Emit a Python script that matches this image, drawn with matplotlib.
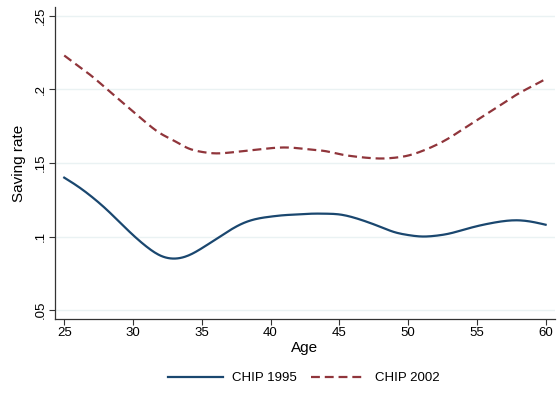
import numpy as np
import matplotlib
matplotlib.use("Agg")
import matplotlib.pyplot as plt

plt.rcParams['font.family'] = ['Liberation Sans', 'DejaVu Sans']

# smoothed saving rate by age
age = np.arange(25, 61)
chip1995 = [0.140, 0.134, 0.127, 0.119, 0.110, 0.101, 0.093, 0.087, 0.085, 0.087,
            0.092, 0.098, 0.104, 0.109, 0.112, 0.1135, 0.1145, 0.115, 0.1155, 0.1155,
            0.115, 0.113, 0.110, 0.1065, 0.103, 0.101, 0.100, 0.1005, 0.102, 0.1045,
            0.107, 0.109, 0.1105, 0.111, 0.110, 0.108]
chip2002 = [0.223, 0.216, 0.209, 0.201, 0.193, 0.185, 0.177, 0.170, 0.165, 0.160,
            0.1575, 0.1565, 0.157, 0.158, 0.159, 0.160, 0.1605, 0.160, 0.159, 0.158,
            0.156, 0.1545, 0.1535, 0.153, 0.1535, 0.155, 0.158, 0.162, 0.167, 0.173,
            0.179, 0.185, 0.191, 0.197, 0.202, 0.207]
xticks = [25, 30, 35, 40, 45, 50, 55, 60]
yticks = [0.05, 0.10, 0.15, 0.20, 0.25]
ylabels = ['.05', '.1', '.15', '.2', '.25']

# cubic interpolation for a smooth curve
def smooth(x, y, n=400):
    x = np.asarray(x, float)
    y = np.asarray(y, float)
    xs = np.linspace(x[0], x[-1], n)
    h = np.diff(x)
    m = len(x)
    A = np.zeros((m, m))
    r = np.zeros(m)
    A[0, 0] = A[-1, -1] = 1
    for i in range(1, m - 1):
        A[i, i - 1] = h[i - 1]
        A[i, i] = 2 * (h[i - 1] + h[i])
        A[i, i + 1] = h[i]
        r[i] = 3 * ((y[i + 1] - y[i]) / h[i] - (y[i] - y[i - 1]) / h[i - 1])
    c = np.linalg.solve(A, r)
    b = (y[1:] - y[:-1]) / h - h * (2 * c[:-1] + c[1:]) / 3
    d = (c[1:] - c[:-1]) / (3 * h)
    idx = np.clip(np.searchsorted(x, xs) - 1, 0, m - 2)
    t = xs - x[idx]
    ys = y[idx] + b[idx] * t + c[idx] * t ** 2 + d[idx] * t ** 3
    return xs, ys

fig = plt.figure(figsize=(5.6, 4.08), dpi=100)
ax = fig.add_axes([0.098, 0.218, 0.893, 0.765])

for yv in yticks:
    ax.axhline(yv, color='#eaf2f3', lw=1.0, zorder=0)

x1, y1 = smooth(age, chip1995)
x2, y2 = smooth(age, chip2002)
ax.plot(x1, y1, color='#1a476f', lw=1.6, label='CHIP 1995')
ax.plot(x2, y2, color='#90353b', lw=1.6, dashes=(4, 2.2), label='CHIP 2002')

ax.set_xlim(24.32, 60.68)
ax.set_ylim(0.0439, 0.256)
ax.set_xticks(xticks)
ax.set_yticks(yticks)
ax.set_yticklabels(ylabels, rotation=90, va='center')
ax.tick_params(labelsize=9.5, length=4, width=0.8, color='#333333', pad=2)
for s in ['top', 'right']:
    ax.spines[s].set_visible(False)
for s in ['left', 'bottom']:
    ax.spines[s].set_color('#333333')
    ax.spines[s].set_linewidth(0.9)
ax.set_xlabel('Age', fontsize=11, labelpad=1)
ax.set_ylabel('Saving rate', fontsize=11, labelpad=6)

fig.legend(loc='center', bbox_to_anchor=(0.542, 0.0735), ncol=2, frameon=False,
           fontsize=9.5, handlelength=4.2, columnspacing=1.1, handletextpad=0.65)

fig.savefig('out.png', dpi=100, facecolor='white')
